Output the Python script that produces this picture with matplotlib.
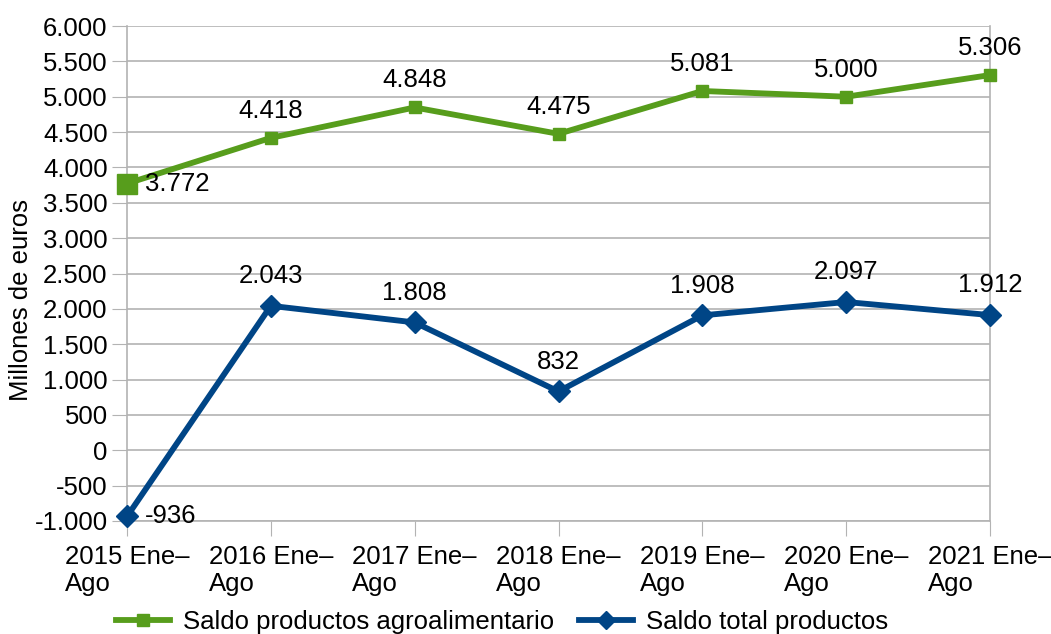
import matplotlib
matplotlib.use("Agg")
import matplotlib.pyplot as plt
from matplotlib.ticker import FuncFormatter
from matplotlib.lines import Line2D

plt.rcParams['font.family'] = ['Liberation Sans', 'DejaVu Sans']

categories = ["2015 Ene–\nAgo", "2016 Ene–\nAgo", "2017 Ene–\nAgo", "2018 Ene–\nAgo",
              "2019 Ene–\nAgo", "2020 Ene–\nAgo", "2021 Ene–\nAgo"]
agro = [3772, 4418, 4848, 4475, 5081, 5000, 5306]
total = [-936, 2043, 1808, 832, 1908, 2097, 1912]
agro_label = "Saldo productos agroalimentario"
total_label = "Saldo total productos"

GREEN = "#579d1c"
BLUE = "#004586"
GRID = "#b3b3b3"
FS = 18.5

def fmt(v):
    s = f"{abs(int(round(v))):,}".replace(",", ".")
    return ("-" if v < 0 else "") + s

fig = plt.figure(figsize=(10.51, 6.34), dpi=100)
ax = fig.add_axes([127/1051, 1-521/634, (990-127)/1051, (521-26)/634])
x = list(range(len(categories)))

ax.plot(x, agro, color=GREEN, lw=4.2, marker='s', ms=9, zorder=3, clip_on=False)
ax.plot(x[:1], agro[:1], color=GREEN, marker='s', ms=14, ls='none', zorder=3, clip_on=False)
ax.plot(x, total, color=BLUE, lw=4.2, marker='D', ms=11.5, zorder=3, clip_on=False)

for i, (a, t) in enumerate(zip(agro, total)):
    if i == 0:
        ax.annotate(fmt(a), (i, a), xytext=(13, 0), textcoords='offset points',
                    ha='left', va='center', fontsize=FS)
        ax.annotate(fmt(t), (i, t), xytext=(13, 0), textcoords='offset points',
                    ha='left', va='center', fontsize=FS)
    else:
        ax.annotate(fmt(a), (i, a), xytext=(0, 19.5), textcoords='offset points',
                    ha='center', va='center', fontsize=FS)
        ax.annotate(fmt(t), (i, t), xytext=(0, 21.5), textcoords='offset points',
                    ha='center', va='center', fontsize=FS)

ax.set_xlim(0, 6)
ax.set_ylim(-1000, 6000)
ax.set_yticks(range(-1000, 6001, 500))
ax.yaxis.set_major_formatter(FuncFormatter(lambda v, p: fmt(v)))
ax.set_xticks(x)
ax.set_xticklabels(categories, fontsize=FS, ha='center', multialignment='left')
ax.tick_params(axis='y', labelsize=FS, length=11, color=GRID, pad=3)
ax.tick_params(axis='x', length=11, color=GRID, pad=6)
ax.grid(axis='y', color=GRID, lw=1.2)
for side in ['left', 'right', 'top', 'bottom']:
    ax.spines[side].set_color(GRID)
    ax.spines[side].set_linewidth(1.2)
ax.spines['top'].set_visible(False)
ax.set_axisbelow(True)
ax.set_ylabel("Millones de euros", fontsize=FS)
ax.yaxis.set_label_coords(-0.109, 0.446)

handles = [Line2D([], [], color=GREEN, lw=4.2, marker='s', ms=9),
           Line2D([], [], color=BLUE, lw=4.2, marker='D', ms=9)]
fig.legend(handles, [agro_label, total_label], loc='center', bbox_to_anchor=(502/1051, 1-622/634),
           ncol=2, frameon=False, fontsize=FS, handlelength=2.1, columnspacing=1.0,
           handletextpad=0.5)

fig.savefig("out.png", dpi=100)
